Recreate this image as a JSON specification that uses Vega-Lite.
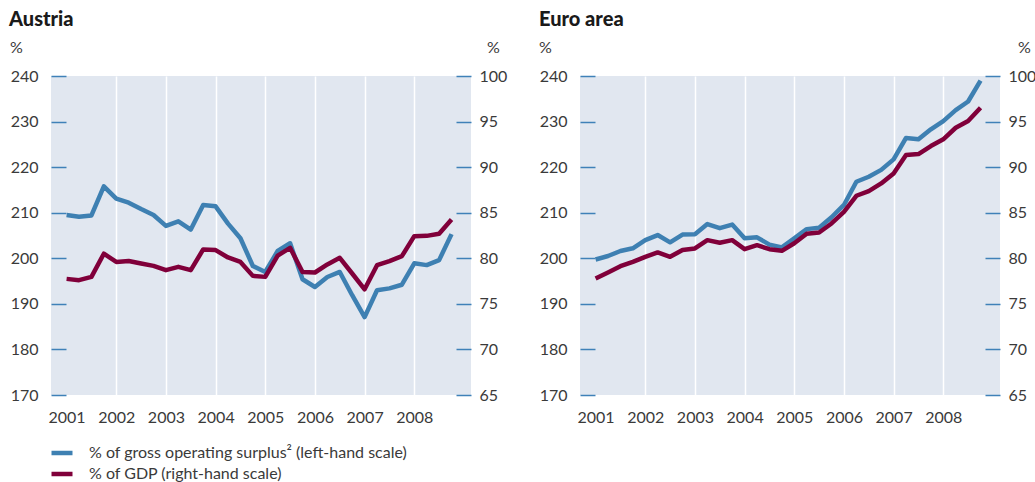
{
  "$schema": "https://vega.github.io/schema/vega-lite/v6.json",
  "padding": {"left": 9, "top": 10, "right": 5, "bottom": 5},
  "background": "white",
  "bounds": "flush",
  "spacing": 109,
  "config": {
    "font": "Lato",
    "view": {"fill": "#e1e7f0", "stroke": null},
    "axis": {"labelFont": "Lato", "labelFontSize": 16, "labelColor": "#3a3a3a", "titleFont": "Lato", "titleFontSize": 16, "titleFontWeight": "normal", "titleColor": "#3a3a3a"},
    "line": {"strokeWidth": 4.5, "strokeJoin": "round"}
  },
  "data": {"values": [
    {"panel": "Austria", "t": 2001.0, "gos": 209.5, "gdp": 77.74},
    {"panel": "Austria", "t": 2001.25, "gos": 209.1, "gdp": 77.6},
    {"panel": "Austria", "t": 2001.5, "gos": 209.4, "gdp": 77.96},
    {"panel": "Austria", "t": 2001.75, "gos": 215.8, "gdp": 80.5},
    {"panel": "Austria", "t": 2002.0, "gos": 213.1, "gdp": 79.6},
    {"panel": "Austria", "t": 2002.25, "gos": 212.2, "gdp": 79.7},
    {"panel": "Austria", "t": 2002.5, "gos": 210.8, "gdp": 79.43},
    {"panel": "Austria", "t": 2002.75, "gos": 209.5, "gdp": 79.17},
    {"panel": "Austria", "t": 2003.0, "gos": 207.1, "gdp": 78.7},
    {"panel": "Austria", "t": 2003.25, "gos": 208.1, "gdp": 79.06},
    {"panel": "Austria", "t": 2003.5, "gos": 206.3, "gdp": 78.7},
    {"panel": "Austria", "t": 2003.75, "gos": 211.7, "gdp": 80.97},
    {"panel": "Austria", "t": 2004.0, "gos": 211.4, "gdp": 80.9},
    {"panel": "Austria", "t": 2004.25, "gos": 207.6, "gdp": 80.09},
    {"panel": "Austria", "t": 2004.5, "gos": 204.4, "gdp": 79.6},
    {"panel": "Austria", "t": 2004.75, "gos": 198.3, "gdp": 78.07},
    {"panel": "Austria", "t": 2005.0, "gos": 197.0, "gdp": 77.96},
    {"panel": "Austria", "t": 2005.25, "gos": 201.6, "gdp": 80.3},
    {"panel": "Austria", "t": 2005.5, "gos": 203.3, "gdp": 81.15},
    {"panel": "Austria", "t": 2005.75, "gos": 195.4, "gdp": 78.5},
    {"panel": "Austria", "t": 2006.0, "gos": 193.7, "gdp": 78.44},
    {"panel": "Austria", "t": 2006.25, "gos": 195.9, "gdp": 79.32},
    {"panel": "Austria", "t": 2006.5, "gos": 197.0, "gdp": 80.05},
    {"panel": "Austria", "t": 2006.75, "gos": 191.9, "gdp": 78.33},
    {"panel": "Austria", "t": 2007.0, "gos": 187.1, "gdp": 76.6},
    {"panel": "Austria", "t": 2007.25, "gos": 193.0, "gdp": 79.24},
    {"panel": "Austria", "t": 2007.5, "gos": 193.4, "gdp": 79.68},
    {"panel": "Austria", "t": 2007.75, "gos": 194.2, "gdp": 80.23},
    {"panel": "Austria", "t": 2008.0, "gos": 198.9, "gdp": 82.43},
    {"panel": "Austria", "t": 2008.25, "gos": 198.5, "gdp": 82.46},
    {"panel": "Austria", "t": 2008.5, "gos": 199.6, "gdp": 82.7},
    {"panel": "Austria", "t": 2008.75, "gos": 205.3, "gdp": 84.26},
    {"panel": "Euro area", "t": 2001.0, "gos": 199.74, "gdp": 77.78},
    {"panel": "Euro area", "t": 2001.25, "gos": 200.5, "gdp": 78.44},
    {"panel": "Euro area", "t": 2001.5, "gos": 201.6, "gdp": 79.13},
    {"panel": "Euro area", "t": 2001.75, "gos": 202.2, "gdp": 79.61},
    {"panel": "Euro area", "t": 2002.0, "gos": 204.0, "gdp": 80.16},
    {"panel": "Euro area", "t": 2002.25, "gos": 205.1, "gdp": 80.64},
    {"panel": "Euro area", "t": 2002.5, "gos": 203.5, "gdp": 80.16},
    {"panel": "Euro area", "t": 2002.75, "gos": 205.2, "gdp": 80.9},
    {"panel": "Euro area", "t": 2003.0, "gos": 205.3, "gdp": 81.08},
    {"panel": "Euro area", "t": 2003.25, "gos": 207.5, "gdp": 81.99},
    {"panel": "Euro area", "t": 2003.5, "gos": 206.6, "gdp": 81.7},
    {"panel": "Euro area", "t": 2003.75, "gos": 207.4, "gdp": 81.99},
    {"panel": "Euro area", "t": 2004.0, "gos": 204.4, "gdp": 81.0},
    {"panel": "Euro area", "t": 2004.25, "gos": 204.6, "gdp": 81.44},
    {"panel": "Euro area", "t": 2004.5, "gos": 203.0, "gdp": 81.0},
    {"panel": "Euro area", "t": 2004.75, "gos": 202.4, "gdp": 80.82},
    {"panel": "Euro area", "t": 2005.0, "gos": 204.4, "gdp": 81.65},
    {"panel": "Euro area", "t": 2005.25, "gos": 206.4, "gdp": 82.7},
    {"panel": "Euro area", "t": 2005.5, "gos": 206.7, "gdp": 82.83},
    {"panel": "Euro area", "t": 2005.75, "gos": 209.0, "gdp": 83.82},
    {"panel": "Euro area", "t": 2006.0, "gos": 211.7, "gdp": 85.1},
    {"panel": "Euro area", "t": 2006.25, "gos": 216.8, "gdp": 86.86},
    {"panel": "Euro area", "t": 2006.5, "gos": 217.9, "gdp": 87.37},
    {"panel": "Euro area", "t": 2006.75, "gos": 219.4, "gdp": 88.21},
    {"panel": "Euro area", "t": 2007.0, "gos": 221.7, "gdp": 89.31},
    {"panel": "Euro area", "t": 2007.25, "gos": 226.4, "gdp": 91.32},
    {"panel": "Euro area", "t": 2007.5, "gos": 226.1, "gdp": 91.43},
    {"panel": "Euro area", "t": 2007.75, "gos": 228.3, "gdp": 92.31},
    {"panel": "Euro area", "t": 2008.0, "gos": 230.1, "gdp": 93.05},
    {"panel": "Euro area", "t": 2008.25, "gos": 232.5, "gdp": 94.32},
    {"panel": "Euro area", "t": 2008.5, "gos": 234.4, "gdp": 95.06},
    {"panel": "Euro area", "t": 2008.75, "gos": 239.0, "gdp": 96.52}
  ]},
  "resolve": {"scale": {"color": "shared"}, "legend": {"color": "shared"}},
  "hconcat": [
    {
      "title": {"text": "Austria", "anchor": "start", "frame": "group", "dx": -42, "fontSize": 20, "fontWeight": 900, "color": "#1a1a1a", "offset": 9},
      "width": 420, "height": 319,
      "transform": [{"filter": "datum.panel === 'Austria'"}],
      "encoding": {
        "x": {"field": "t", "type": "quantitative", "scale": {"domain": [2000.686, 2009.142], "nice": false, "zero": false},
          "axis": {"values": [2001, 2002, 2003, 2004, 2005, 2006, 2007, 2008], "format": "d", "domain": false, "ticks": false, "grid": true,
            "gridColor": {"condition": {"test": "datum.value === 2001", "value": "transparent"}, "value": "white"}, "gridWidth": 1.5, "labelPadding": 14, "title": null}}
      },
      "layer": [
        {"mark": "line", "encoding": {
          "y": {"field": "gos", "type": "quantitative", "scale": {"domain": [170, 240], "nice": false, "zero": false},
            "axis": {"values": [170, 180, 190, 200, 210, 220, 230, 240], "domain": false, "grid": false, "tickSize": -15, "tickColor": "#3f81b8", "tickWidth": 1.5, "labelPadding": 28,
              "title": "%", "titleAngle": 0, "titleX": -35, "titleY": -29, "titleAlign": "center", "titleBaseline": "middle"}},
          "color": {"datum": "% of gross operating surplus² (left-hand scale)", "type": "nominal",
            "scale": {"domain": ["% of gross operating surplus² (left-hand scale)", "% of GDP (right-hand scale)"], "range": ["#3e80b2", "#80003a"]},
            "legend": {"orient": "none", "legendX": -2, "legendY": 364, "title": null, "symbolType": "stroke", "symbolStrokeWidth": 5, "symbolSize": 441, "labelFontSize": 16, "labelFont": "Lato", "labelColor": "#3a3a3a", "labelLimit": 0, "rowPadding": 0, "labelOffset": 14, "padding": 0, "direction": "vertical"}}
        }},
        {"mark": "line", "encoding": {
          "y": {"field": "gdp", "type": "quantitative", "scale": {"domain": [65, 100], "nice": false, "zero": false},
            "axis": {"orient": "right", "values": [65, 70, 75, 80, 85, 90, 95, 100], "domain": false, "grid": false, "tickSize": -15, "tickColor": "#3f81b8", "tickWidth": 1.5, "labelPadding": 23,
              "title": "%", "titleAngle": 0, "titleX": 22, "titleY": -29, "titleAlign": "center", "titleBaseline": "middle"}},
          "color": {"datum": "% of GDP (right-hand scale)", "type": "nominal"}
        }}
      ],
      "resolve": {"scale": {"y": "independent"}}
    },
    {
      "title": {"text": "Euro area", "anchor": "start", "frame": "group", "dx": -41, "fontSize": 20, "fontWeight": 900, "color": "#1a1a1a", "offset": 9},
      "width": 420, "height": 319,
      "transform": [{"filter": "datum.panel === 'Euro area'"}],
      "encoding": {
        "x": {"field": "t", "type": "quantitative", "scale": {"domain": [2000.686, 2009.142], "nice": false, "zero": false},
          "axis": {"values": [2001, 2002, 2003, 2004, 2005, 2006, 2007, 2008], "format": "d", "domain": false, "ticks": false, "grid": true,
            "gridColor": {"condition": {"test": "datum.value === 2001", "value": "transparent"}, "value": "white"}, "gridWidth": 1.5, "labelPadding": 14, "title": null}}
      },
      "layer": [
        {"mark": "line", "encoding": {
          "y": {"field": "gos", "type": "quantitative", "scale": {"domain": [170, 240], "nice": false, "zero": false},
            "axis": {"values": [170, 180, 190, 200, 210, 220, 230, 240], "domain": false, "grid": false, "tickSize": -15, "tickColor": "#3f81b8", "tickWidth": 1.5, "labelPadding": 28,
              "title": "%", "titleAngle": 0, "titleX": -35, "titleY": -29, "titleAlign": "center", "titleBaseline": "middle"}},
          "color": {"datum": "% of gross operating surplus² (left-hand scale)", "type": "nominal"}
        }},
        {"mark": "line", "encoding": {
          "y": {"field": "gdp", "type": "quantitative", "scale": {"domain": [65, 100], "nice": false, "zero": false},
            "axis": {"orient": "right", "values": [65, 70, 75, 80, 85, 90, 95, 100], "domain": false, "grid": false, "tickSize": -15, "tickColor": "#3f81b8", "tickWidth": 1.5, "labelPadding": 23,
              "title": "%", "titleAngle": 0, "titleX": 24, "titleY": -29, "titleAlign": "center", "titleBaseline": "middle"}},
          "color": {"datum": "% of GDP (right-hand scale)", "type": "nominal"}
        }}
      ],
      "resolve": {"scale": {"y": "independent"}}
    }
  ]
}
